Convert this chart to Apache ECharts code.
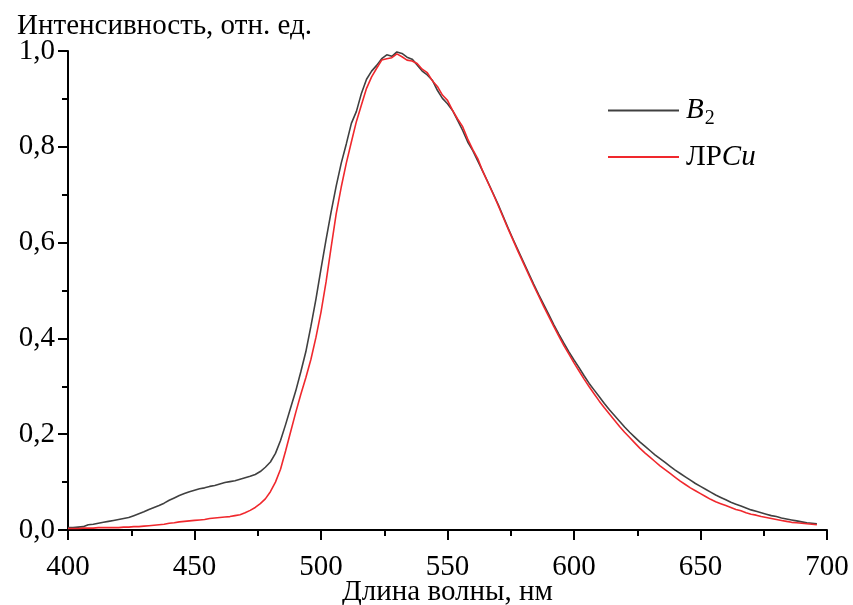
<!DOCTYPE html>
<html>
<head>
<meta charset="utf-8">
<script src="https://cdn.jsdelivr.net/npm/echarts@6/dist/echarts.min.js"></script>
<style>html,body{margin:0;padding:0;background:#fff}#c{width:853px;height:605px}</style>
</head>
<body>
<div id="c"></div>
<script>
// Wavelengths, nm (2 nm step)
const wavelengths = [];
for (let w = 400; w <= 696; w += 2) wavelengths.push(w);

// B2 intensity (normalized)
const seriesB2 = [
0.005,0.005,0.006,0.007,0.011,0.012,0.014,0.016,0.018,0.020,
0.022,0.024,0.026,0.030,0.034,0.038,0.043,0.047,0.051,0.056,
0.062,0.067,0.072,0.076,0.080,0.083,0.086,0.088,0.091,0.093,
0.096,0.099,0.101,0.103,0.106,0.109,0.112,0.116,0.122,0.131,
0.142,0.160,0.187,0.220,0.255,0.290,0.330,0.372,0.425,0.482,
0.545,0.606,0.664,0.718,0.766,0.806,0.849,0.874,0.912,0.941,
0.958,0.970,0.984,0.992,0.989,0.998,0.995,0.987,0.983,0.971,
0.958,0.950,0.939,0.918,0.901,0.890,0.876,0.855,0.834,0.810,
0.792,0.770,0.748,0.726,0.703,0.680,0.655,0.630,0.606,0.583,
0.560,0.537,0.514,0.492,0.471,0.450,0.429,0.409,0.390,0.372,
0.355,0.339,0.322,0.306,0.292,0.278,0.264,0.251,0.239,0.227,
0.215,0.204,0.194,0.184,0.175,0.166,0.157,0.149,0.141,0.133,
0.125,0.118,0.111,0.104,0.097,0.091,0.085,0.079,0.073,0.068,
0.063,0.058,0.054,0.050,0.046,0.042,0.039,0.036,0.033,0.030,
0.028,0.025,0.023,0.021,0.019,0.017,0.015,0.014,0.013
];

// ЛРCu intensity (normalized)
const seriesLRCu = [
0.003,0.003,0.003,0.004,0.004,0.004,0.005,0.005,0.005,0.005,
0.005,0.006,0.006,0.007,0.007,0.008,0.009,0.010,0.011,0.012,
0.014,0.015,0.017,0.018,0.019,0.020,0.021,0.022,0.024,0.025,
0.026,0.027,0.028,0.030,0.032,0.036,0.041,0.047,0.055,0.065,
0.080,0.100,0.127,0.165,0.205,0.245,0.283,0.318,0.356,0.402,
0.455,0.518,0.590,0.660,0.716,0.766,0.810,0.853,0.888,0.922,
0.946,0.964,0.981,0.984,0.986,0.994,0.988,0.981,0.979,0.974,
0.962,0.955,0.938,0.926,0.908,0.897,0.876,0.858,0.842,0.816,
0.794,0.775,0.748,0.725,0.702,0.678,0.653,0.628,0.604,0.580,
0.557,0.534,0.511,0.489,0.467,0.446,0.425,0.405,0.385,0.367,
0.349,0.332,0.315,0.299,0.284,0.269,0.255,0.242,0.229,0.216,
0.204,0.193,0.182,0.171,0.161,0.152,0.143,0.134,0.126,0.118,
0.110,0.102,0.095,0.088,0.082,0.076,0.070,0.064,0.059,0.055,
0.051,0.047,0.043,0.040,0.036,0.033,0.031,0.028,0.026,0.024,
0.022,0.020,0.018,0.016,0.015,0.014,0.013,0.012,0.011
];

const xTicks = [400, 450, 500, 550, 600, 650, 700];
const yTicks = [0.0, 0.2, 0.4, 0.6, 0.8, 1.0];
const seriesNames = ['B2', 'ЛРCu'];

const FONT = '"Liberation Serif", "Times New Roman", serif';
const FS = 29;
const pairs = (ys) => wavelengths.map((w, i) => [w, ys[i]]);

const chart = echarts.init(document.getElementById('c'), null, {renderer: 'canvas'});
const axisCommon = {
  axisLine: {show: true, lineStyle: {color: '#000', width: 2}},
  axisTick: {show: true, inside: false, length: 10, lineStyle: {color: '#000', width: 2}},
  minorTick: {show: true, splitNumber: 2, length: 6, lineStyle: {color: '#000', width: 2}},
  splitLine: {show: false},
};
chart.setOption({
  animation: false,
  backgroundColor: '#fff',
  grid: {left: 68, right: 26, top: 51, bottom: 75, containLabel: false, outerBoundsMode: 'none'},
  legend: {
    orient: 'vertical',
    left: 602, top: 91,
    itemWidth: 71, itemHeight: 16, itemGap: 14,
    data: seriesNames,
    itemStyle: {opacity: 0},
    lineStyle: {width: 2},
    formatter: (n) => n === 'B2' ? '{i|B}{sub|2}' : '{r|ЛР}{i|Cu}',
    textStyle: {
      fontFamily: FONT, fontSize: FS, color: '#000', padding: [0,0,0,2],
      rich: {
        i: {fontFamily: FONT, fontSize: FS, fontStyle: 'italic', color: '#000'},
        r: {fontFamily: FONT, fontSize: FS, color: '#000'},
        sub: {fontFamily: FONT, fontSize: 20, color: '#000', padding: [16, 0, 0, 1]}
      }
    }
  },
  xAxis: Object.assign({
    type: 'value', min: xTicks[0], max: xTicks[xTicks.length - 1], interval: 50,
    name: 'Длина волны, нм', nameLocation: 'middle', nameGap: 48, nameMoveOverlap: false,
    nameTextStyle: {fontFamily: FONT, fontSize: FS, color: '#000'},
    axisLabel: {fontFamily: FONT, fontSize: FS, color: '#000', margin: 23}
  }, axisCommon),
  yAxis: Object.assign({
    type: 'value', min: yTicks[0], max: yTicks[yTicks.length - 1], interval: 0.2,
    name: 'Интенсивность, отн. ед.', nameLocation: 'end', nameGap: 10, nameMoveOverlap: false,
    nameTextStyle: {fontFamily: FONT, fontSize: FS, color: '#000', align: 'left', padding: [0, 0, 0, -51]},
    axisLabel: {fontFamily: FONT, fontSize: FS, color: '#000', margin: 13,
      formatter: (v) => v.toFixed(1).replace('.', ',')}
  }, axisCommon),
  series: [
    {name: seriesNames[0], type: 'line', data: pairs(seriesB2), symbol: 'none',
     lineStyle: {color: '#404040', width: 1.6}, itemStyle: {color: '#404040'}, z: 2},
    {name: seriesNames[1], type: 'line', data: pairs(seriesLRCu), symbol: 'none',
     lineStyle: {color: '#f0282d', width: 1.6}, itemStyle: {color: '#f0282d'}, z: 3}
  ]
});
</script>
</body>
</html>
